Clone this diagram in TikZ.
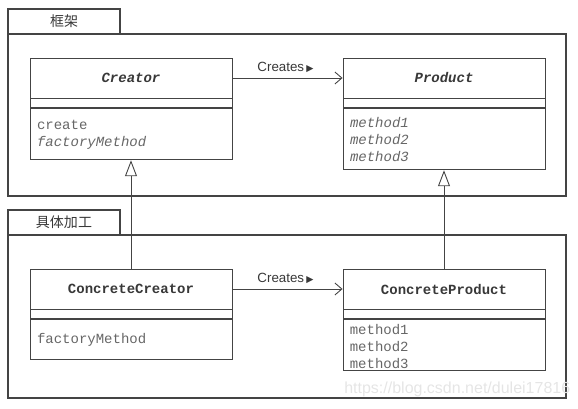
\documentclass[tikz,border=0pt]{standalone}
\usepackage{fontspec}
\setmainfont{Liberation Sans}
\setmonofont{Liberation Mono}
\newfontfamily\cjk{Noto Sans CJK SC}
\newfontfamily\sym{DejaVu Sans}
\newcommand\px{0.75pt}
\newcommand\boxw{202}
\usetikzlibrary{positioning,arrows.meta}
\definecolor{linegray}{HTML}{444444}
\definecolor{textgray}{HTML}{383838}
\definecolor{methgray}{HTML}{666666}
\tikzset{pkg/.style={rectangle,draw=linegray,line width=1.5*\px,inner sep=0pt},
         pkgtab/.style={pkg,minimum width=112*\px,minimum height=25*\px,text=textgray,font=\cjk\fontsize{10.5}{12}\selectfont},
         namebox/.style={rectangle,draw=linegray,line width=0.9*\px,inner sep=0pt,minimum width=\boxw*\px,minimum height=40*\px,text=textgray,font=\ttfamily\bfseries\fontsize{10.5}{12.75}\selectfont},
         gapbox/.style={namebox,minimum height=9*\px},
         methbox/.style={namebox,inner xsep=7*\px,text width=188*\px,align=left,text=methgray,font=\ttfamily\fontsize{10.5}{12.75}\selectfont},
         methtext/.style={anchor=north west,inner sep=0pt,align=left,text=methgray,font=\ttfamily\fontsize{10.5}{12.75}\selectfont},
         creates/.style={draw=linegray,line width=0.9*\px,-{Straight Barb[length=7*\px,width=12*\px]}},
         inherits/.style={draw=linegray,line width=0.9*\px,-{Triangle[open,length=16*\px,width=12*\px,fill=white]}},
         lbl/.style={text=textgray,font=\fontsize{10}{12}\selectfont,inner sep=1pt}}

\begin{document}
\begin{tikzpicture}[x=\px,y=-\px]
                \useasboundingbox (0,0) rectangle (578,409);
                \node[pkgtab] (frametab) at (64,21.5) {框架};
                \node[pkg,minimum width=558*\px,minimum height=162*\px] (framebody) at (287,115) {};
                \node[pkgtab] (worktab) at (64,222.5) {具体加工};
                \node[pkg,minimum width=558*\px,minimum height=163*\px] (workbody) at (287,316.5) {};

                \node[namebox] (creator) at (131,78) {\itshape Creator};
                \node[gapbox,below=0pt of creator] (creatorgap) {};
                \node[methbox,below=0pt of creatorgap,minimum height=51*\px] (creatormeth) {create\\\itshape factoryMethod};

                \node[namebox] (product) at (444,78) {\itshape Product};
                \node[gapbox,below=0pt of product] (productgap) {};
                \node[methbox,below=0pt of productgap,minimum height=61*\px,font=\ttfamily\itshape\fontsize{10.5}{12.75}\selectfont] (productmeth) {method1\\method2\\method3};

                \node[namebox] (ccreator) at (131,289) {ConcreteCreator};
                \node[gapbox,below=0pt of ccreator] (ccreatorgap) {};
                \node[methbox,below=0pt of ccreatorgap,minimum height=40*\px] (ccreatormeth) {factoryMethod};

                \node[namebox] (cproduct) at (444,289) {ConcreteProduct};
                \node[gapbox,below=0pt of cproduct] (cproductgap) {};
                \node[methbox,below=0pt of cproductgap,minimum height=51*\px] (cproductmeth) {};
                \node[methtext] (cproductops) at ([xshift=7*\px,yshift=-5*\px]cproductmeth.north west) {method1\\method2\\method3};

                \draw[creates] (creator.east) -- node[lbl,above=4*\px,xshift=-2*\px] {Creates\,{\sym\fontsize{7}{8}\selectfont ▶}} (product.west);
                \draw[creates] (ccreator.east) -- node[lbl,above=4*\px,xshift=-2*\px] {Creates\,{\sym\fontsize{7}{8}\selectfont ▶}} (cproduct.west);
                \draw[inherits] (ccreator.north) -- (creatormeth.south);
                \draw[inherits] (cproduct.north) -- (productmeth.south);

                \node[anchor=west,text=gray!20,font=\fontsize{12}{14}\selectfont,inner sep=0pt] (mark) at (344,389) {https://blog.csdn.net/dulei17816};
            \end{tikzpicture}
\end{document}
